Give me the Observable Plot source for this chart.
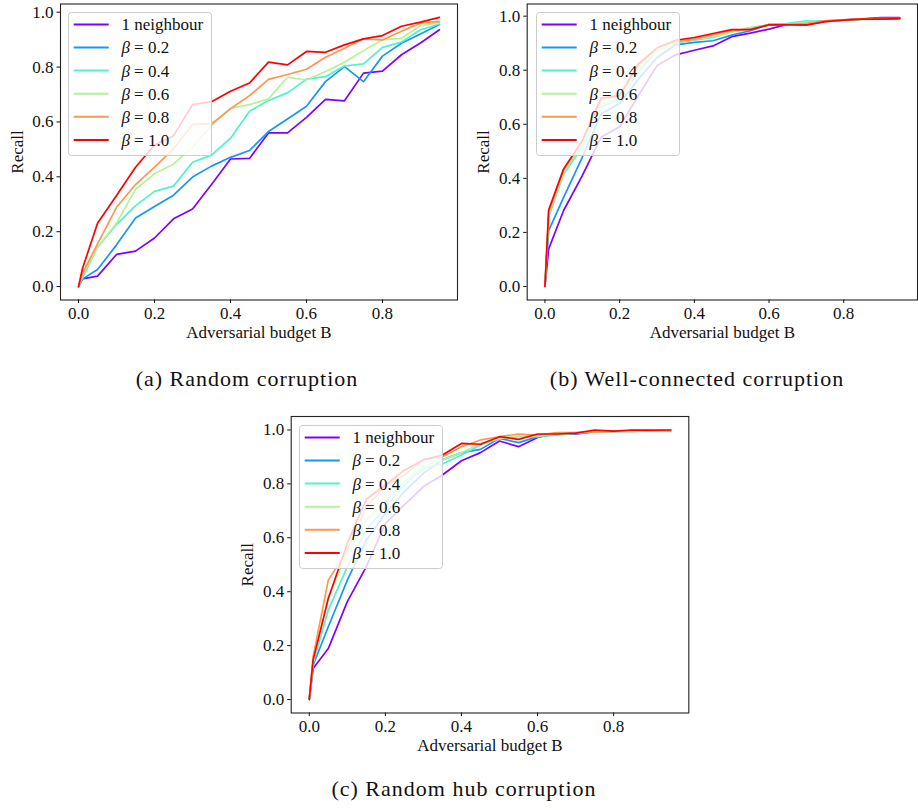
<!DOCTYPE html>
<html>
<head>
<meta charset="utf-8">
<script src="https://cdn.jsdelivr.net/npm/d3@7"></script>
<script src="https://cdn.jsdelivr.net/npm/@observablehq/plot@0.6"></script>
<style>
  html, body { margin: 0; padding: 0; background: #fff; }
  #root { position: relative; width: 918px; height: 810px; }
  .panel { position: absolute; }
  .caption { position: absolute; font-family: "Liberation Serif", "DejaVu Serif", "Times New Roman", serif; font-size: 22px; letter-spacing: 1px; color: #111; white-space: nowrap; transform: translateX(-50%); }
  .legend { position: absolute; }
  #probe { position: absolute; left: 0; top: 0; font-size: 10px; }
</style>
</head>
<body>
<div id="root"></div>
<script>
// ---------- data ----------
const budgets = [0, 0.01, 0.05, 0.10, 0.15, 0.20, 0.25, 0.30, 0.35, 0.40, 0.45, 0.50, 0.55, 0.60, 0.65, 0.70, 0.75, 0.80, 0.85, 0.90, 0.95];
const seriesNames = ["1 neighbour", "β = 0.2", "β = 0.4", "β = 0.6", "β = 0.8", "β = 1.0"];
const seriesColors = ["#8000ff", "#1996f3", "#4df3ce", "#b2f396", "#ff964f", "#ff0000"];
const xTicks = [0.0, 0.2, 0.4, 0.6, 0.8];
const yTicks = [0.0, 0.2, 0.4, 0.6, 0.8, 1.0];
const captions = ["(a) Random corruption", "(b) Well-connected corruption", "(c) Random hub corruption"];
const xLabel = "Adversarial budget B";
const yLabel = "Recall";

// (a) Random corruption
const randN1  = [0, 0.028, 0.038, 0.117, 0.129, 0.177, 0.247, 0.283, 0.372, 0.465, 0.467, 0.560, 0.560, 0.617, 0.682, 0.677, 0.778, 0.785, 0.845, 0.888, 0.936];
const randB02 = [0, 0.027, 0.062, 0.152, 0.250, 0.292, 0.333, 0.399, 0.439, 0.471, 0.496, 0.565, 0.611, 0.657, 0.747, 0.802, 0.747, 0.840, 0.887, 0.921, 0.955];
const randB04 = [0, 0.030, 0.143, 0.226, 0.295, 0.347, 0.366, 0.453, 0.479, 0.541, 0.639, 0.678, 0.706, 0.756, 0.765, 0.804, 0.812, 0.872, 0.891, 0.936, 0.957];
const randB06 = [0, 0.040, 0.143, 0.231, 0.354, 0.411, 0.447, 0.508, 0.587, 0.650, 0.663, 0.684, 0.763, 0.753, 0.784, 0.818, 0.860, 0.900, 0.905, 0.951, 0.961];
const randB08 = [0, 0.046, 0.156, 0.289, 0.372, 0.435, 0.502, 0.591, 0.593, 0.648, 0.696, 0.755, 0.773, 0.792, 0.836, 0.869, 0.903, 0.899, 0.931, 0.960, 0.966];
const randB10 = [0, 0.064, 0.231, 0.332, 0.435, 0.516, 0.550, 0.663, 0.674, 0.712, 0.742, 0.818, 0.808, 0.857, 0.854, 0.881, 0.903, 0.915, 0.949, 0.964, 0.981];

// (b) Well-connected corruption
const wellN1  = [0, 0.139, 0.281, 0.410, 0.552, 0.591, 0.706, 0.817, 0.857, 0.874, 0.890, 0.924, 0.937, 0.952, 0.970, 0.970, 0.980, 0.986, 0.990, 0.995, 0.995];
const wellB02 = [0, 0.207, 0.330, 0.478, 0.638, 0.677, 0.767, 0.847, 0.894, 0.903, 0.909, 0.930, 0.946, 0.970, 0.970, 0.977, 0.983, 0.985, 0.989, 0.993, 0.993];
const wellB04 = [0, 0.256, 0.416, 0.515, 0.663, 0.693, 0.792, 0.872, 0.901, 0.911, 0.921, 0.942, 0.958, 0.968, 0.973, 0.983, 0.980, 0.985, 0.988, 0.989, 0.989];
const wellB06 = [0, 0.268, 0.422, 0.527, 0.672, 0.697, 0.804, 0.872, 0.904, 0.914, 0.924, 0.942, 0.956, 0.966, 0.970, 0.978, 0.980, 0.985, 0.988, 0.989, 0.989];
const wellB08 = [0, 0.275, 0.431, 0.539, 0.690, 0.706, 0.817, 0.884, 0.906, 0.915, 0.931, 0.946, 0.952, 0.968, 0.970, 0.973, 0.983, 0.986, 0.990, 0.990, 0.990];
const wellB10 = [0, 0.283, 0.435, 0.539, 0.697, 0.706, 0.823, 0.882, 0.911, 0.921, 0.936, 0.950, 0.950, 0.968, 0.968, 0.967, 0.980, 0.985, 0.989, 0.989, 0.991];

// (c) Random hub corruption
const hubN1  = [0, 0.115, 0.189, 0.363, 0.493, 0.653, 0.722, 0.790, 0.833, 0.886, 0.916, 0.959, 0.938, 0.972, 0.988, 0.985, 0.994, 0.995, 0.996, 0.998, 0.998];
const hubB02 = [0, 0.127, 0.270, 0.443, 0.592, 0.690, 0.771, 0.839, 0.889, 0.916, 0.928, 0.969, 0.953, 0.975, 0.985, 0.985, 0.994, 0.995, 0.998, 1.000, 0.998];
const hubB04 = [0, 0.134, 0.332, 0.493, 0.629, 0.715, 0.796, 0.858, 0.874, 0.907, 0.944, 0.969, 0.975, 0.975, 0.981, 0.988, 0.994, 0.995, 0.993, 0.998, 1.000];
const hubB06 = [0, 0.140, 0.381, 0.542, 0.666, 0.734, 0.808, 0.866, 0.889, 0.916, 0.950, 0.969, 0.978, 0.978, 0.988, 0.990, 0.993, 0.995, 0.995, 0.998, 1.000];
const hubB08 = [0, 0.158, 0.443, 0.554, 0.715, 0.792, 0.833, 0.891, 0.901, 0.938, 0.963, 0.975, 0.985, 0.981, 0.990, 0.990, 0.993, 0.995, 0.998, 0.998, 1.000];
const hubB10 = [0, 0.146, 0.375, 0.579, 0.743, 0.796, 0.851, 0.889, 0.907, 0.950, 0.947, 0.975, 0.965, 0.985, 0.985, 0.988, 1.000, 0.996, 1.000, 0.999, 1.000];

// ---------- helpers ----------
const FONT = "'Liberation Serif', 'DejaVu Serif', 'Times New Roman', serif";

function toRows(seriesArrays) {
  const rows = [];
  seriesArrays.forEach((vals, si) => {
    vals.forEach((v, i) => rows.push({ series: seriesNames[si], budget: budgets[i], recall: v }));
  });
  return rows;
}

const root = document.getElementById("root");

const panels = [
  { rows: toRows([randN1, randB02, randB04, randB06, randB08, randB10]), yDomain: [-0.049, 1.030],
    left: 0, top: 0, width: 460, height: 345, mL: 60, mR: 3, mT: 3.5, mB: 45.5,
    legend: { left: 68.3, top: 12.3 }, caption: { x: 247, y: 366 } },
  { rows: toRows([wellN1, wellB02, wellB04, wellB06, wellB08, wellB10]), yDomain: [-0.050, 1.045],
    left: 466, top: 0, width: 452, height: 345, mL: 60.7, mR: 1, mT: 3.5, mB: 45.5,
    legend: { left: 535.7, top: 12.3 }, caption: { x: 697, y: 366 } },
  { rows: toRows([hubN1, hubB02, hubB04, hubB06, hubB08, hubB10]), yDomain: [-0.050, 1.050],
    left: 230, top: 412, width: 460, height: 346, mL: 60.7, mR: 1.7, mT: 4, mB: 45.5,
    legend: { left: 299.3, top: 425 }, caption: { x: 464, y: 776 } }
];

panels.forEach((p, k) => {
  const chart = Plot.plot({
    width: p.width,
    height: p.height,
    marginLeft: p.mL,
    marginRight: p.mR,
    marginTop: p.mT,
    marginBottom: p.mB,
    style: { fontFamily: FONT, fontSize: "17px", color: "#111", background: "transparent", overflow: "visible" },
    x: { domain: [-0.0475, 0.9975] },
    y: { domain: p.yDomain },
    color: { domain: seriesNames, range: seriesColors },
    marks: [
      Plot.line(p.rows, { x: "budget", y: "recall", z: "series", stroke: "series", strokeWidth: 1.7 }),
      Plot.frame({ stroke: "#222", strokeWidth: 1.1 }),
      Plot.axisX({ ticks: xTicks, tickFormat: d3.format(".1f"), tickSize: 3.5, tickPadding: 3.5, label: xLabel, labelAnchor: "center", labelArrow: "none", labelOffset: 38, fontSize: 17, fontFamily: FONT }),
      Plot.axisY({ ticks: yTicks, tickFormat: d3.format(".1f"), tickSize: 3.5, tickPadding: 3.5, label: yLabel, labelAnchor: "center", labelArrow: "none", labelOffset: 50, fontSize: 17, fontFamily: FONT })
    ]
  });
  chart.classList.add("panel");
  chart.style.left = p.left + "px";
  chart.style.top = p.top + "px";
  root.appendChild(chart);

  // legend (matplotlib-style, semi-transparent box)
  const lw = 144, lh = 144, rowGap = 23.1, firstRow = 12.4;
  const leg = d3.create("svg").attr("class", "legend").attr("width", lw).attr("height", lh)
    .style("left", p.legend.left + "px").style("top", p.legend.top + "px")
    .attr("font-family", FONT).attr("font-size", 17);
  leg.append("rect").attr("x", 0.5).attr("y", 0.5).attr("width", lw - 1).attr("height", lh - 1)
    .attr("rx", 3).attr("fill", "#fff").attr("fill-opacity", 0.8).attr("stroke", "#cccccc").attr("stroke-width", 1);
  seriesNames.forEach((name, i) => {
    const y = firstRow + i * rowGap;
    leg.append("line").attr("x1", 5.7).attr("x2", 40.7).attr("y1", y).attr("y2", y)
      .attr("stroke", seriesColors[i]).attr("stroke-width", 2);
    const t = leg.append("text").attr("x", 53.4).attr("y", y).attr("dy", "0.35em").attr("fill", "#111");
    if (name.startsWith("β")) {
      t.append("tspan").attr("font-style", "italic").text("β");
      t.append("tspan").text(name.slice(1));
    } else {
      t.text(name);
    }
  });
  root.appendChild(leg.node());

  const cap = document.createElement("div");
  cap.className = "caption";
  cap.textContent = captions[k];
  cap.style.left = p.caption.x + "px";
  cap.style.top = p.caption.y + "px";
  root.appendChild(cap);
});
</script>
</body>
</html>
